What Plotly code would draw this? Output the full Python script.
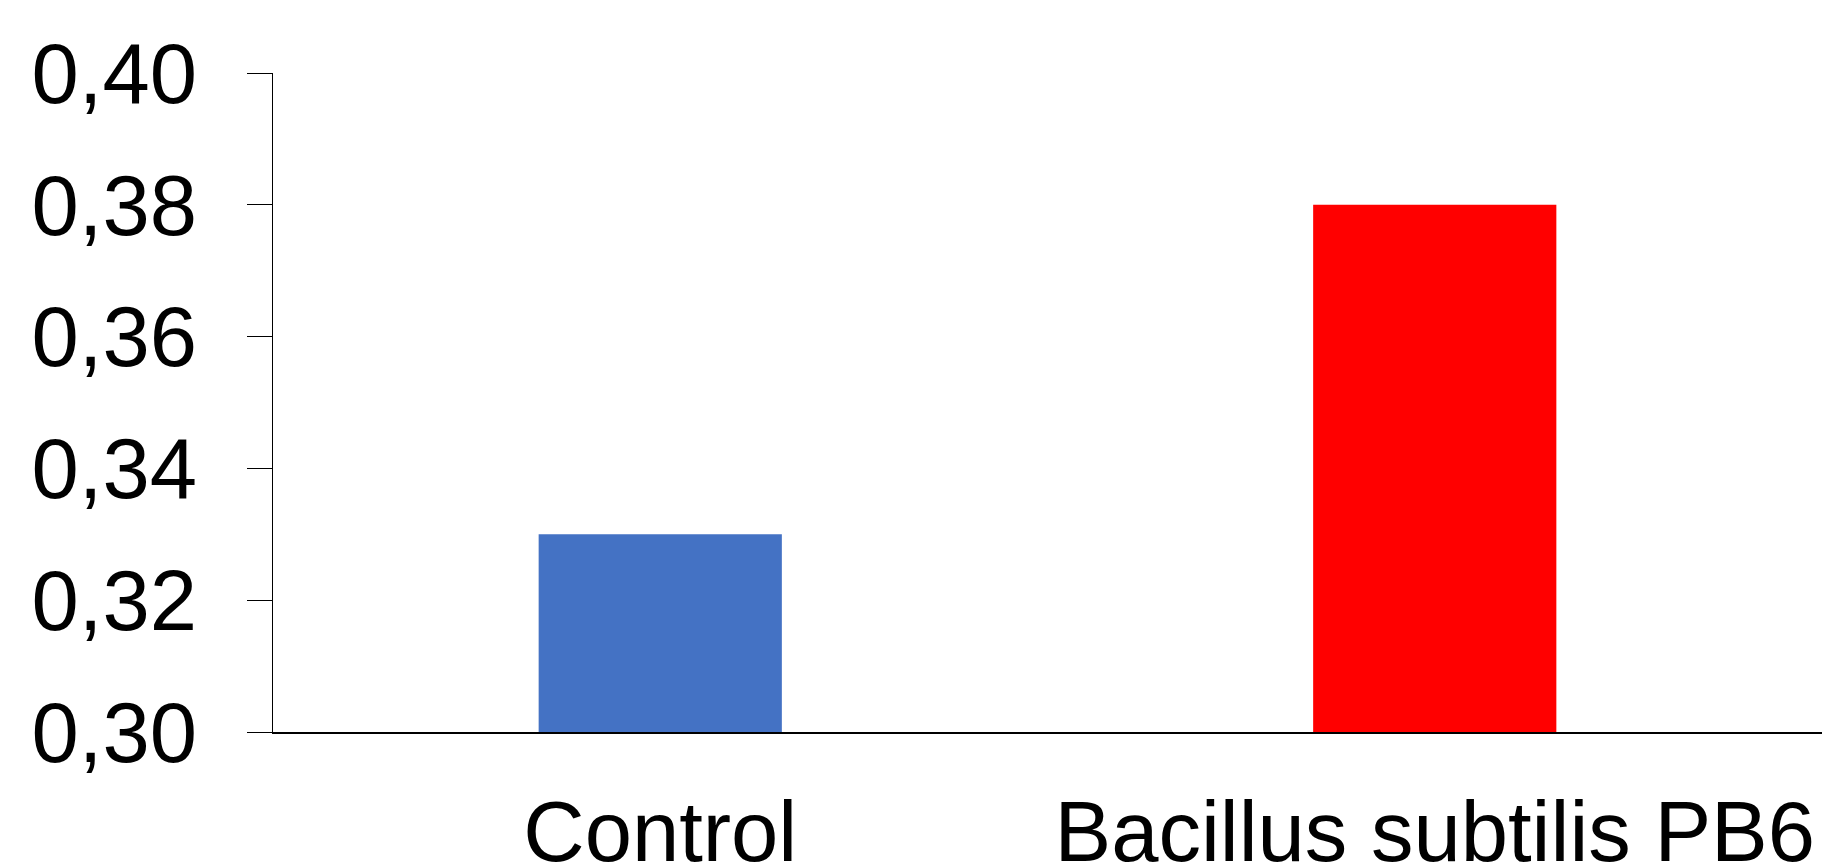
import plotly.graph_objects as go

categories = ["Control", "Bacillus subtilis PB6"]
values = [0.330, 0.380]
colors = ["#4472C4", "#FF0000"]
y_tickvals = [0.30, 0.32, 0.34, 0.36, 0.38, 0.40]
y_ticktext = ["0,30", "0,32", "0,34", "0,36", "0,38", "0,40"]

FONT = "Liberation Sans, Arial, sans-serif"
FS = 85

fig = go.Figure()
fig.add_trace(go.Bar(
    x=categories, y=values, marker=dict(color=colors, line=dict(width=0)),
    width=0.314,
))

fig.update_layout(
    width=1822, height=855,
    margin=dict(l=265, r=8, t=65, b=131, autoexpand=False),
    paper_bgcolor="white", plot_bgcolor="white",
    showlegend=False,
    font=dict(family=FONT, size=FS, color="black"),
)
fig.update_xaxes(
    showline=True, linecolor="black", linewidth=2,
    ticks="", showgrid=False, ticklabelstandoff=25, automargin=False,
    tickfont=dict(family=FONT, size=FS),
)
fig.update_yaxes(
    range=[0.30, 0.40], tickvals=y_tickvals, ticktext=y_ticktext,
    showline=True, linecolor="black", linewidth=1,
    ticks="outside", ticklen=25, tickwidth=1, tickcolor="black",
    showgrid=False, zeroline=False, ticklabelstandoff=33, automargin=False,
    tickfont=dict(family=FONT, size=FS),
)
fig.write_html("out.html")
